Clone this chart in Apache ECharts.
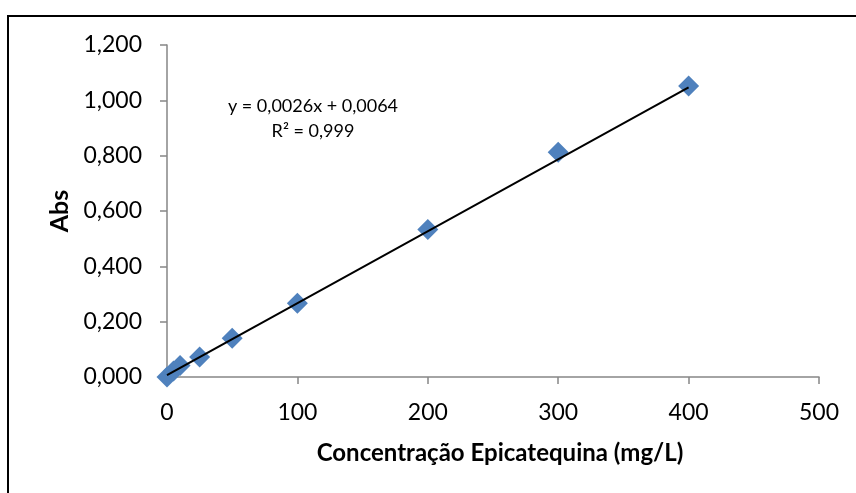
<!DOCTYPE html>
<html>
<head>
<meta charset="utf-8">
<script src="https://cdn.jsdelivr.net/npm/echarts@6/dist/echarts.min.js"></script>
<style>html,body{margin:0;padding:0;background:#fff}#c{width:856px;height:493px}</style>
</head>
<body>
<div id="c"></div>
<script>
var concentrations = [0, 5, 10, 25, 50, 100, 200, 300, 400];
var absorbances = [0.000, 0.022, 0.042, 0.072, 0.140, 0.267, 0.533, 0.812, 1.052];
var trendSlope = 0.0026;
var trendIntercept = 0.0064;
var trendRange = [0, 400];
var equationText = 'y = 0,0026x + 0,0064';
var r2Text = 'R² = 0,999';
var xTitle = 'Concentração Epicatequina (mg/L)';
var yTitle = 'Abs';

var FONT = 'Lato';
var chart = echarts.init(document.getElementById('c'), null, {renderer: 'canvas'});
var points = concentrations.map(function (x, i) { return [x, absorbances[i]]; });
var trend = trendRange.map(function (x) { return [x, trendSlope * x + trendIntercept]; });
function fmt(v) { return v.toFixed(3).replace('.', ','); }

chart.setOption({
  animation: false,
  backgroundColor: '#fff',
  grid: {left: 167, right: 37, top: 45, bottom: 116, containLabel: false},
  graphic: [
    {type: 'rect', shape: {x: 8, y: 16, width: 1000, height: 1000}, style: {fill: 'none', stroke: '#000', lineWidth: 2}, silent: true},
    {type: 'text', x: 313, y: 106, style: {text: equationText, fontFamily: FONT, fontSize: 18, fill: '#000', align: 'center', verticalAlign: 'middle'}},
    {type: 'text', x: 313, y: 131, style: {text: r2Text, fontFamily: FONT, fontSize: 18, fill: '#000', align: 'center', verticalAlign: 'middle'}}
  ],
  xAxis: {
    type: 'value', min: 0, max: 500, interval: 100,
    name: xTitle, nameLocation: 'middle', nameGap: 64,
    nameTextStyle: {fontFamily: FONT, fontWeight: 'bold', fontSize: 24, color: '#000', padding: [0, 0, 0, 14]},
    axisLine: {show: true, lineStyle: {color: '#868686', width: 1.5}},
    axisTick: {show: true, inside: false, length: 7, lineStyle: {color: '#868686', width: 1.5}},
    axisLabel: {fontFamily: FONT, fontSize: 23, color: '#000', margin: 24},
    splitLine: {show: false}
  },
  yAxis: {
    type: 'value', min: 0, max: 1.2, interval: 0.2,
    name: yTitle, nameLocation: 'middle', nameGap: 94, nameRotate: 90,
    nameTextStyle: {fontFamily: FONT, fontWeight: 'bold', fontSize: 25, color: '#000'},
    axisLine: {show: true, lineStyle: {color: '#868686', width: 1.5}},
    axisTick: {show: true, inside: false, length: 7, lineStyle: {color: '#868686', width: 1.5}},
    axisLabel: {fontFamily: FONT, fontSize: 23, color: '#000', margin: 25, formatter: fmt},
    splitLine: {show: false}
  },
  series: [
    {
      type: 'scatter', data: points, symbol: 'diamond', symbolSize: 21,
      itemStyle: {color: '#4F81BD', opacity: 1}, z: 2
    },
    {
      type: 'line', data: trend, symbol: 'none', lineStyle: {color: '#000', width: 2}, z: 3
    }
  ]
});
</script>
</body>
</html>
